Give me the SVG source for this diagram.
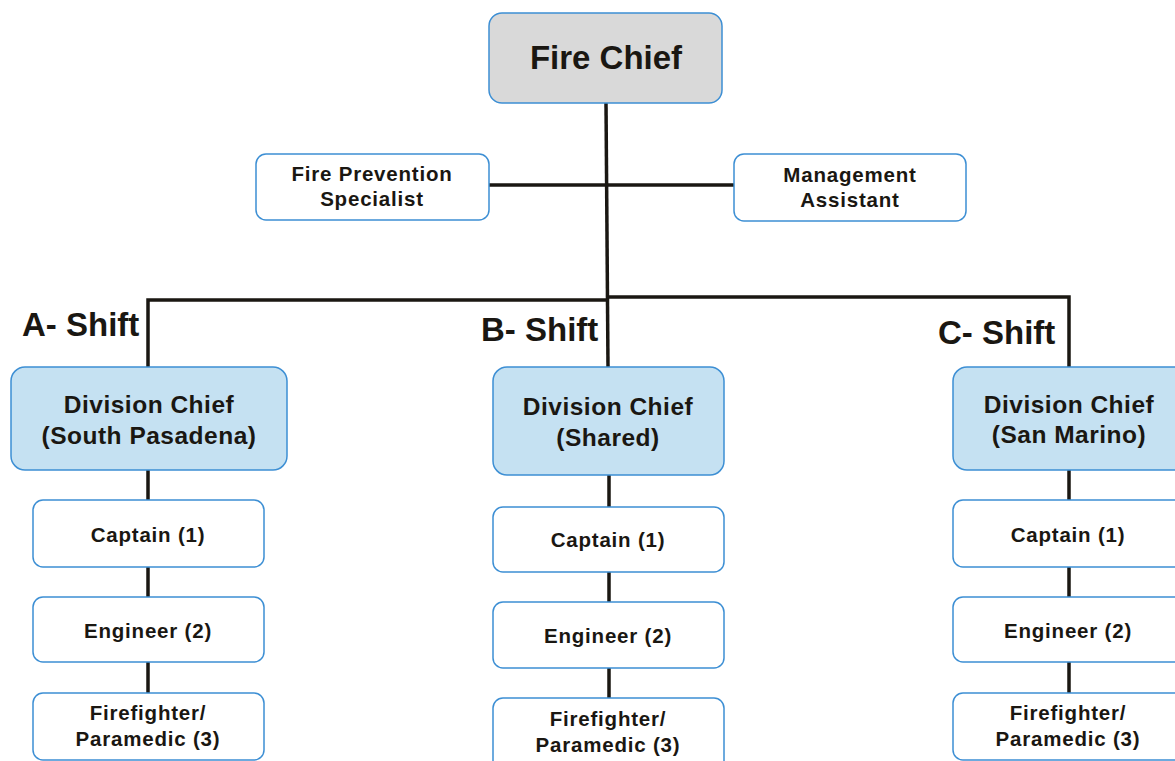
<svg xmlns="http://www.w3.org/2000/svg" width="1175" height="761" viewBox="0 0 1175 761">
<style>
.box{fill:#ffffff;stroke:#3d8fd4;stroke-width:1.5}
.chief{fill:#d9d9d9;stroke:#3d8fd4;stroke-width:1.5}
.div{fill:#c5e1f2;stroke:#3d8fd4;stroke-width:1.5}
.ln{stroke:#1a1712;stroke-width:3.5;fill:none}
text{font-family:"Liberation Sans",Arial,sans-serif;font-weight:bold;fill:#1a1712;text-anchor:middle}
.t30{font-size:33px}
.t22{font-size:24.5px;letter-spacing:0.5px}
.t19{font-size:20.5px;letter-spacing:0.8px}
.shift{font-size:33px;text-anchor:start}
</style>
<rect width="1175" height="761" fill="#ffffff"/>
<g id="connectors">
<path class="ln" d="M606 103 L608 367"/>
<path class="ln" d="M489 185 L734 185"/>
<path class="ln" d="M148 367 L148 300 L607 300"/>
<path class="ln" d="M607 297 L1069 297 L1069 367"/>
<path class="ln" d="M148 470 L148 500 M148 567 L148 597 M148 662 L148 693"/>
<path class="ln" d="M609 475 L609 507 M609 572 L609 602 M609 668 L609 698"/>
<path class="ln" d="M1069 470 L1069 500 M1069 567 L1069 597 M1069 662 L1069 693"/>
</g>
<g id="fire-chief"><rect class="chief" x="489" y="13" width="233" height="90" rx="13"/><text class="t30" x="606" y="69">Fire Chief</text></g>
<g id="fire-prevention"><rect class="box" x="256" y="154" width="233" height="66" rx="10"/><text class="t19" x="372" y="181">Fire Prevention</text><text class="t19" x="372" y="206">Specialist</text></g>
<g id="management-assistant"><rect class="box" x="734" y="154" width="232" height="67" rx="10"/><text class="t19" x="850" y="182">Management</text><text class="t19" x="850" y="207">Assistant</text></g>
<g id="shift-labels">
<text class="shift" x="22" y="336">A- Shift</text>
<text class="shift" x="481" y="341">B- Shift</text>
<text class="shift" x="938" y="344">C- Shift</text>
</g>
<g id="div-a"><rect class="div" x="11" y="367" width="276" height="103" rx="14"/><text class="t22" x="149" y="413">Division Chief</text><text class="t22" x="149" y="444">(South Pasadena)</text></g>
<g id="div-b"><rect class="div" x="493" y="367" width="231" height="108" rx="14"/><text class="t22" x="608" y="415">Division Chief</text><text class="t22" x="608" y="446">(Shared)</text></g>
<g id="div-c"><rect class="div" x="953" y="367" width="240" height="103" rx="14"/><text class="t22" x="1069" y="413">Division Chief</text><text class="t22" x="1069" y="443">(San Marino)</text></g>
<g id="captain-a"><rect class="box" x="33" y="500" width="231" height="67" rx="10"/><text class="t19" x="148" y="542">Captain (1)</text></g>
<g id="engineer-a"><rect class="box" x="33" y="597" width="231" height="65" rx="10"/><text class="t19" x="148" y="638">Engineer (2)</text></g>
<g id="firefighter-a"><rect class="box" x="33" y="693" width="231" height="67" rx="10"/><text class="t19" x="148" y="720">Firefighter/</text><text class="t19" x="148" y="746">Paramedic (3)</text></g>
<g id="captain-b"><rect class="box" x="493" y="507" width="231" height="65" rx="10"/><text class="t19" x="608" y="547">Captain (1)</text></g>
<g id="engineer-b"><rect class="box" x="493" y="602" width="231" height="66" rx="10"/><text class="t19" x="608" y="643">Engineer (2)</text></g>
<g id="firefighter-b"><rect class="box" x="493" y="698" width="231" height="75" rx="10"/><text class="t19" x="608" y="726">Firefighter/</text><text class="t19" x="608" y="752">Paramedic (3)</text></g>
<g id="captain-c"><rect class="box" x="953" y="500" width="240" height="67" rx="10"/><text class="t19" x="1068" y="542">Captain (1)</text></g>
<g id="engineer-c"><rect class="box" x="953" y="597" width="240" height="65" rx="10"/><text class="t19" x="1068" y="638">Engineer (2)</text></g>
<g id="firefighter-c"><rect class="box" x="953" y="693" width="240" height="67" rx="10"/><text class="t19" x="1068" y="720">Firefighter/</text><text class="t19" x="1068" y="746">Paramedic (3)</text></g>
</svg>
